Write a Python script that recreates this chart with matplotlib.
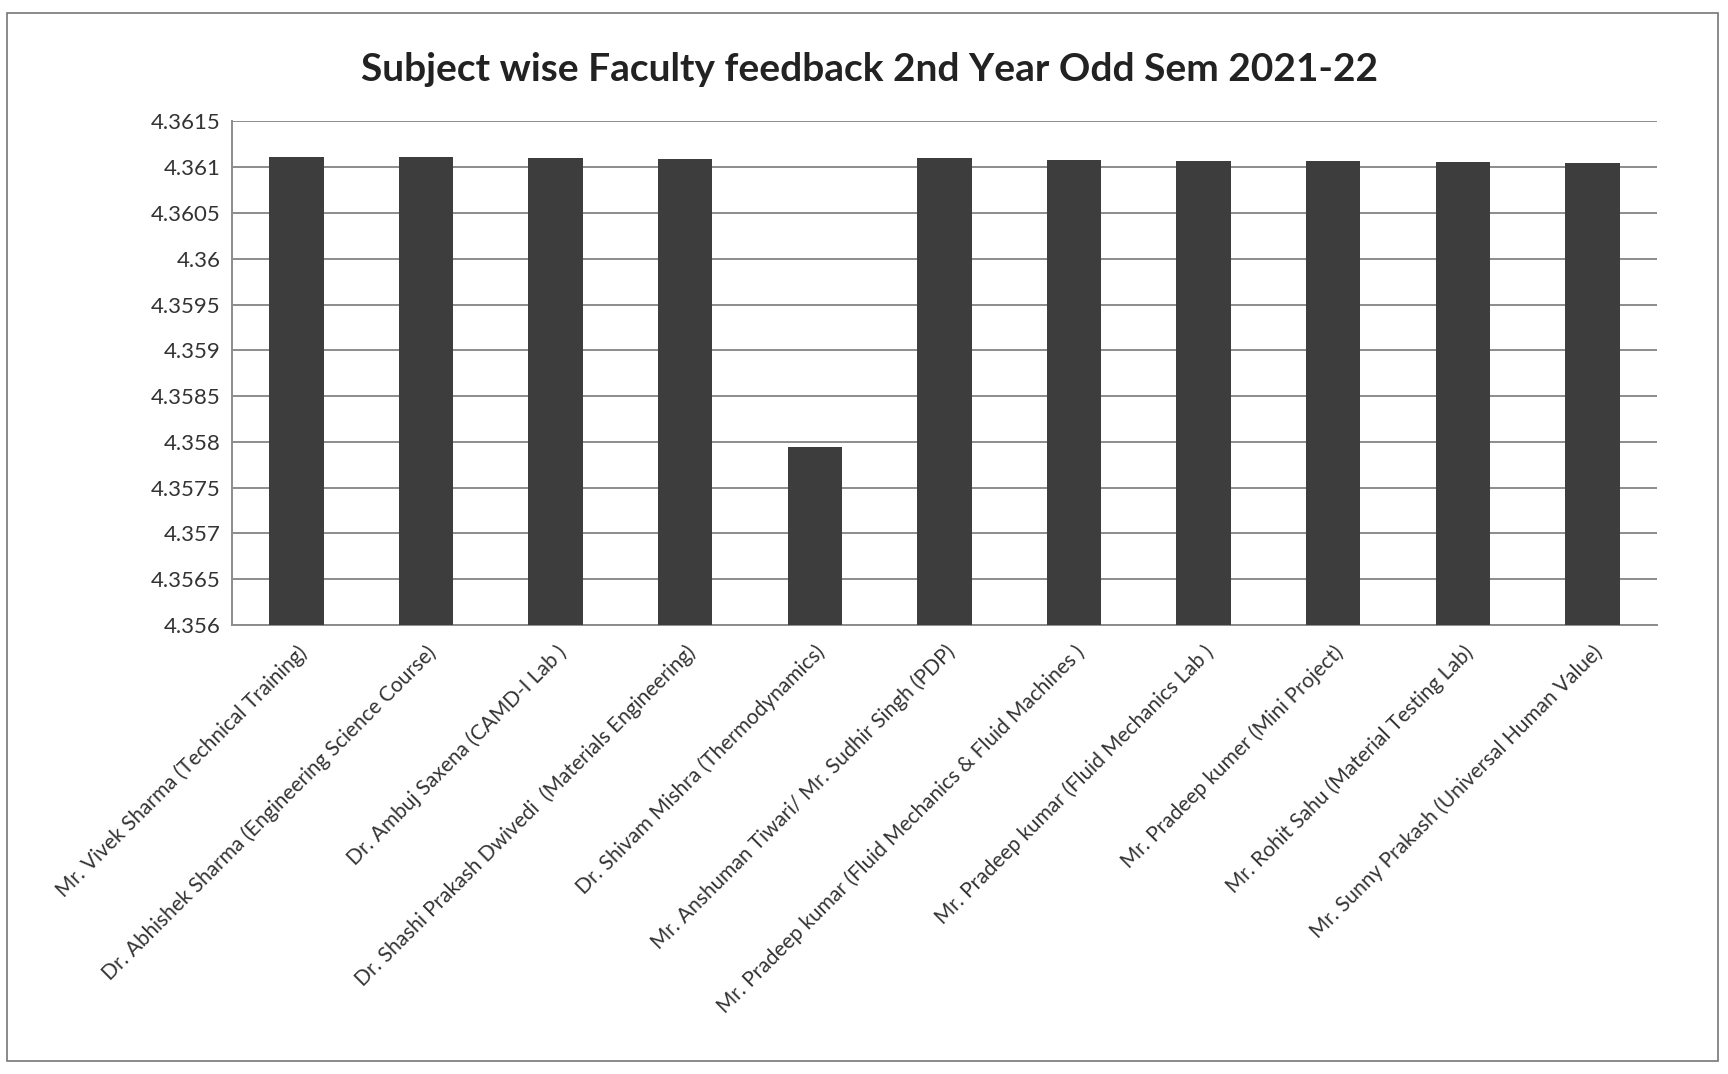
import matplotlib.pyplot as plt
from matplotlib.patches import Rectangle
from matplotlib.ticker import FixedLocator, FuncFormatter

plt.rcParams['font.family'] = ['Lato', 'DejaVu Sans']

faculty = [
    'Mr. Vivek Sharma (Technical Training)',
    'Dr. Abhishek Sharma (Engineering Science Course)',
    'Dr. Ambuj Saxena (CAMD-I Lab )',
    'Dr. Shashi Prakash Dwivedi  (Materials Engineering)',
    'Dr. Shivam Mishra (Thermodynamics)',
    'Mr. Anshuman Tiwari/ Mr. Sudhir Singh (PDP)',
    'Mr. Pradeep kumar (Fluid Mechanics & Fluid Machines )',
    'Mr. Pradeep kumar (Fluid Mechanics Lab )',
    'Mr. Pradeep kumer (Mini Project)',
    'Mr. Rohit Sahu (Material Testing Lab)',
    'Mr. Sunny Prakash (Universal Human Value)',
]
scores = [4.36111, 4.36111, 4.36110, 4.36109, 4.35794, 4.36110,
          4.36108, 4.36107, 4.36107, 4.36106, 4.36105]
yticks = [4.356, 4.3565, 4.357, 4.3575, 4.358, 4.3585, 4.359,
          4.3595, 4.36, 4.3605, 4.361, 4.3615]

fig = plt.figure(figsize=(17.28, 10.74), dpi=100)
ax = fig.add_axes([0.134, 0.418, 0.825, 0.469])

x = range(len(faculty))
ax.bar(x, scores, width=0.42, color='#3d3d3d', zorder=3)
ax.set_ylim(4.356, 4.3615)
ax.set_xlim(-0.5, len(faculty) - 0.5)

ax.yaxis.set_major_locator(FixedLocator(yticks))
ax.yaxis.set_major_formatter(FuncFormatter(lambda v, p: f'{v:g}'))
ax.grid(axis='y', color='#8c8c8c', linewidth=1.4, zorder=0)
ax.tick_params(axis='y', length=0, labelsize=16, pad=8, colors='#333333')
ax.tick_params(axis='x', length=0, pad=12)

ax.set_xticks(list(x))
ax.set_xticklabels(faculty, rotation=45, ha='right', rotation_mode='anchor',
                   fontsize=15, color='#333333')

for side in ['top', 'right']:
    ax.spines[side].set_visible(False)
for side in ['left', 'bottom']:
    ax.spines[side].set_color('#8c8c8c')
    ax.spines[side].set_linewidth(1.4)

fig.text(0.503, 0.935, 'Subject wise Faculty feedback 2nd Year Odd Sem 2021-22',
         ha='center', va='center', fontsize=28, fontweight='bold', color='#222222')

# chart area border
fig.patches.append(Rectangle((0.004, 0.012), 0.99, 0.976, transform=fig.transFigure,
                             fill=False, edgecolor='#777777', linewidth=1.2))

plt.savefig('out.png')
plt.close()
